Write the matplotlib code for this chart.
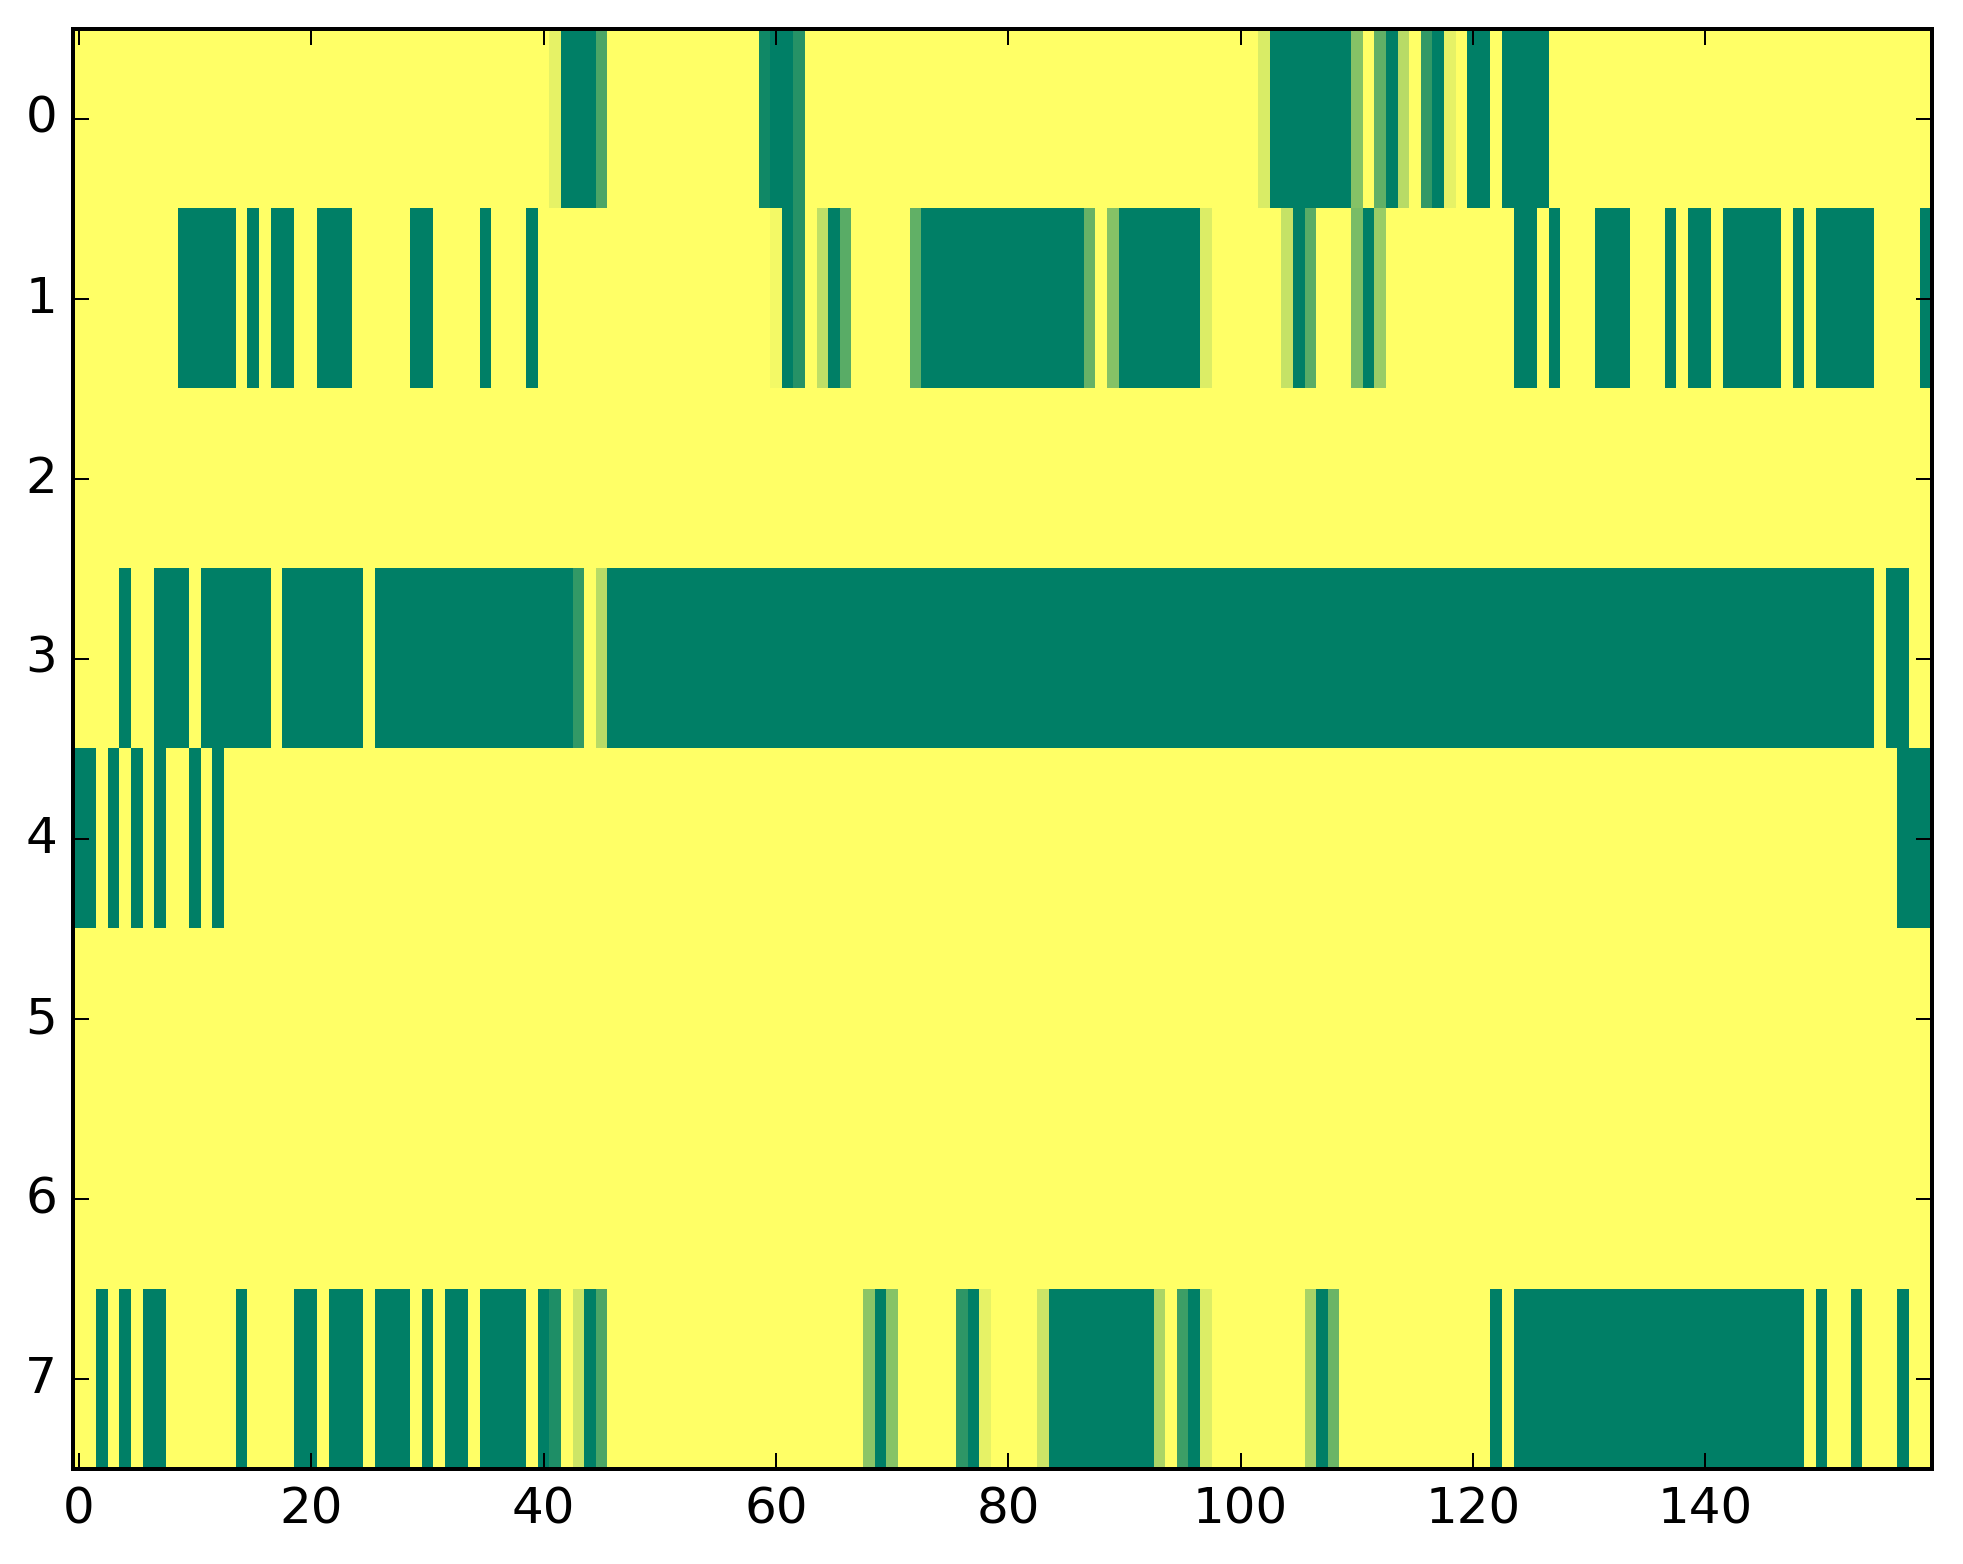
import numpy as np
import matplotlib
matplotlib.use('Agg')
import matplotlib.pyplot as plt

# values, one list per row (160 columns each)
row0 = [0, 0, 0, 0, 0, 0, 0, 0, 0, 0, 0, 0, 0, 0, 0, 0, 0, 0, 0, 0,
        0, 0, 0, 0, 0, 0, 0, 0, 0, 0, 0, 0, 0, 0, 0, 0, 0, 0, 0, 0,
        0, .1, 1, 1, 1, .7, 0, 0, 0, 0, 0, 0, 0, 0, 0, 0, 0, 0, 0, .93,
        1, 1, .85, 0, 0, 0, 0, 0, 0, 0, 0, 0, 0, 0, 0, 0, 0, 0, 0, 0,
        0, 0, 0, 0, 0, 0, 0, 0, 0, 0, 0, 0, 0, 0, 0, 0, 0, 0, 0, 0,
        0, 0, .15, 1, 1, 1, 1, 1, 1, 1, .48, 0, .62, 1, .28, 0, .8, 1, .1, 0,
        1, 1, 0, 1, 1, 1, 1, 0, 0, 0, 0, 0, 0, 0, 0, 0, 0, 0, 0, 0,
        0, 0, 0, 0, 0, 0, 0, 0, 0, 0, 0, 0, 0, 0, 0, 0, 0, 0, 0, 0]

row1 = [0, 0, 0, 0, 0, 0, 0, 0, 0, 1, 1, 1, 1, 1, 0, 1, 0, 1, 1, 0,
        0, 1, 1, 1, 0, 0, 0, 0, 0, 1, 1, 0, 0, 0, 0, 1, 0, 0, 0, 1,
        0, 0, 0, 0, 0, 0, 0, 0, 0, 0, 0, 0, 0, 0, 0, 0, 0, 0, 0, 0,
        .05, 1, .85, 0, .25, 1, .65, 0, 0, 0, 0, 0, .62, 1, 1, 1, 1, 1, 1, 1,
        1, 1, 1, 1, 1, 1, 1, .6, 0, .48, 1, 1, 1, 1, 1, 1, 1, .14, 0, 0,
        0, 0, 0, 0, .23, 1, .65, 0, 0, 0, .52, 1, .4, 0, 0, 0, 0, 0, 0, 0,
        0, 0, 0, 0, 1, 1, 0, 1, 0, 0, 0, 1, 1, 1, 0, 0, 0, 1, 0, 1,
        1, 0, 1, 1, 1, 1, 1, 0, 1, 0, 1, 1, 1, 1, 1, 0, 0, 0, 0, 1]

row2 = [0, 0, 0, 0, 0, 0, 0, 0, 0, 0, 0, 0, 0, 0, 0, 0, 0, 0, 0, 0,
        0, 0, 0, 0, 0, 0, 0, 0, 0, 0, 0, 0, 0, 0, 0, 0, 0, 0, 0, 0,
        0, 0, 0, 0, 0, 0, 0, 0, 0, 0, 0, 0, 0, 0, 0, 0, 0, 0, 0, 0,
        0, 0, 0, 0, 0, 0, 0, 0, 0, 0, 0, 0, 0, 0, 0, 0, 0, 0, 0, 0,
        0, 0, 0, 0, 0, 0, 0, 0, 0, 0, 0, 0, 0, 0, 0, 0, 0, 0, 0, 0,
        0, 0, 0, 0, 0, 0, 0, 0, 0, 0, 0, 0, 0, 0, 0, 0, 0, 0, 0, 0,
        0, 0, 0, 0, 0, 0, 0, 0, 0, 0, 0, 0, 0, 0, 0, 0, 0, 0, 0, 0,
        0, 0, 0, 0, 0, 0, 0, 0, 0, 0, 0, 0, 0, 0, 0, 0, 0, 0, 0, 0]

row3 = [0, 0, 0, 0, 1, 0, 0, 1, 1, 1, 0, 1, 1, 1, 1, 1, 1, 0, 1, 1,
        1, 1, 1, 1, 1, 0, 1, 1, 1, 1, 1, 1, 1, 1, 1, 1, 1, 1, 1, 1,
        1, 1, 1, .8, 0, .28, 1, 1, 1, 1, 1, 1, 1, 1, 1, 1, 1, 1, 1, 1,
        1, 1, 1, 1, 1, 1, 1, 1, 1, 1, 1, 1, 1, 1, 1, 1, 1, 1, 1, 1,
        1, 1, 1, 1, 1, 1, 1, 1, 1, 1, 1, 1, 1, 1, 1, 1, 1, 1, 1, 1,
        1, 1, 1, 1, 1, 1, 1, 1, 1, 1, 1, 1, 1, 1, 1, 1, 1, 1, 1, 1,
        1, 1, 1, 1, 1, 1, 1, 1, 1, 1, 1, 1, 1, 1, 1, 1, 1, 1, 1, 1,
        1, 1, 1, 1, 1, 1, 1, 1, 1, 1, 1, 1, 1, 1, 1, 0, 1, 1, 0, 0]

row4 = [1, 1, 0, 1, 0, 1, 0, 1, 0, 0, 1, 0, 1, 0, 0, 0, 0, 0, 0, 0,
        0, 0, 0, 0, 0, 0, 0, 0, 0, 0, 0, 0, 0, 0, 0, 0, 0, 0, 0, 0,
        0, 0, 0, 0, 0, 0, 0, 0, 0, 0, 0, 0, 0, 0, 0, 0, 0, 0, 0, 0,
        0, 0, 0, 0, 0, 0, 0, 0, 0, 0, 0, 0, 0, 0, 0, 0, 0, 0, 0, 0,
        0, 0, 0, 0, 0, 0, 0, 0, 0, 0, 0, 0, 0, 0, 0, 0, 0, 0, 0, 0,
        0, 0, 0, 0, 0, 0, 0, 0, 0, 0, 0, 0, 0, 0, 0, 0, 0, 0, 0, 0,
        0, 0, 0, 0, 0, 0, 0, 0, 0, 0, 0, 0, 0, 0, 0, 0, 0, 0, 0, 0,
        0, 0, 0, 0, 0, 0, 0, 0, 0, 0, 0, 0, 0, 0, 0, 0, 0, 1, 1, 1]

row5 = [0, 0, 0, 0, 0, 0, 0, 0, 0, 0, 0, 0, 0, 0, 0, 0, 0, 0, 0, 0,
        0, 0, 0, 0, 0, 0, 0, 0, 0, 0, 0, 0, 0, 0, 0, 0, 0, 0, 0, 0,
        0, 0, 0, 0, 0, 0, 0, 0, 0, 0, 0, 0, 0, 0, 0, 0, 0, 0, 0, 0,
        0, 0, 0, 0, 0, 0, 0, 0, 0, 0, 0, 0, 0, 0, 0, 0, 0, 0, 0, 0,
        0, 0, 0, 0, 0, 0, 0, 0, 0, 0, 0, 0, 0, 0, 0, 0, 0, 0, 0, 0,
        0, 0, 0, 0, 0, 0, 0, 0, 0, 0, 0, 0, 0, 0, 0, 0, 0, 0, 0, 0,
        0, 0, 0, 0, 0, 0, 0, 0, 0, 0, 0, 0, 0, 0, 0, 0, 0, 0, 0, 0,
        0, 0, 0, 0, 0, 0, 0, 0, 0, 0, 0, 0, 0, 0, 0, 0, 0, 0, 0, 0]

row6 = [0, 0, 0, 0, 0, 0, 0, 0, 0, 0, 0, 0, 0, 0, 0, 0, 0, 0, 0, 0,
        0, 0, 0, 0, 0, 0, 0, 0, 0, 0, 0, 0, 0, 0, 0, 0, 0, 0, 0, 0,
        0, 0, 0, 0, 0, 0, 0, 0, 0, 0, 0, 0, 0, 0, 0, 0, 0, 0, 0, 0,
        0, 0, 0, 0, 0, 0, 0, 0, 0, 0, 0, 0, 0, 0, 0, 0, 0, 0, 0, 0,
        0, 0, 0, 0, 0, 0, 0, 0, 0, 0, 0, 0, 0, 0, 0, 0, 0, 0, 0, 0,
        0, 0, 0, 0, 0, 0, 0, 0, 0, 0, 0, 0, 0, 0, 0, 0, 0, 0, 0, 0,
        0, 0, 0, 0, 0, 0, 0, 0, 0, 0, 0, 0, 0, 0, 0, 0, 0, 0, 0, 0,
        0, 0, 0, 0, 0, 0, 0, 0, 0, 0, 0, 0, 0, 0, 0, 0, 0, 0, 0, 0]

row7 = [0, 0, 1, 0, 1, 0, 1, 1, 0, 0, 0, 0, 0, 0, 1, 0, 0, 0, 0, 1,
        1, 0, 1, 1, 1, 0, 1, 1, 1, 0, 1, 0, 1, 1, 0, 1, 1, 1, 1, 0,
        1, .88, 0, .2, 1, .7, 0, 0, 0, 0, 0, 0, 0, 0, 0, 0, 0, 0, 0, 0,
        0, 0, 0, 0, 0, 0, 0, 0, .45, 1, .47, 0, 0, 0, 0, 0, .82, 1, .1, 0,
        0, 0, 0, .2, 1, 1, 1, 1, 1, 1, 1, 1, 1, .33, 0, .76, 1, .14, 0, 0,
        0, 0, 0, 0, 0, 0, .34, 1, .58, 0, 0, 0, 0, 0, 0, 0, 0, 0, 0, 0,
        0, 0, 1, 0, 1, 1, 1, 1, 1, 1, 1, 1, 1, 1, 1, 1, 1, 1, 1, 1,
        1, 1, 1, 1, 1, 1, 1, 1, 1, 0, 1, 0, 0, 1, 0, 0, 0, 1, 0, 0]

data = np.array([row0, row1, row2, row3, row4, row5, row6, row7], dtype=float)

plt.style.use('classic')
plt.rcParams['font.size'] = 12.5

fig = plt.figure(figsize=(1963 / 288, 1564 / 288), dpi=288)
ax = fig.add_axes([0.0372, 0.0607, 0.947, 0.9208])
ax.imshow(data, cmap='summer_r', vmin=0, vmax=1,
          interpolation='nearest', aspect='auto')
ax.set_xticks([0, 20, 40, 60, 80, 100, 120, 140])
ax.set_yticks(range(8))

fig.savefig('out.png', dpi=288, facecolor='white')
